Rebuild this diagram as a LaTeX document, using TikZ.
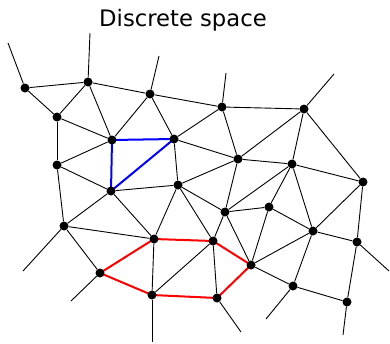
\documentclass[tikz,border=0pt]{standalone}
\usepackage{fontspec}
\setmainfont{DejaVu Sans}
\usetikzlibrary{backgrounds}
\tikzset{
  vert/.style  = {circle, fill=black, inner sep=0pt, minimum size=9pt},
  edge/.style  = {line width=0.9pt, black},
  cell/.style  = {line width=2pt, blue},
  path/.style  = {line width=2pt, red},
  title/.style = {font=\fontsize{22.7}{27}\selectfont, anchor=base},
}
\begin{document}
\begin{tikzpicture}[x=1pt, y=-1pt]
  \useasboundingbox (0,0) rectangle (390,343);
  \node[title] (ttl) at (183,26) {Discrete space};
  % vertices
  \node[vert] (a) at (25,88) {};   \node[vert] (b) at (88,82) {};
  \node[vert] (c) at (150,94) {};  \node[vert] (d) at (57,117) {};
  \node[vert] (e) at (112,140) {}; \node[vert] (f) at (174,139) {};
  \node[vert] (g) at (57,165) {};  \node[vert] (h) at (111,191) {};
  \node[vert] (i) at (178,185) {}; \node[vert] (j) at (222,107) {};
  \node[vert] (k) at (304,109) {}; \node[vert] (l) at (238,159) {};
  \node[vert] (m) at (292,164) {}; \node[vert] (n) at (363,182) {};
  \node[vert] (o) at (64,226) {};  \node[vert] (p) at (154,239) {};
  \node[vert] (q) at (100,273) {}; \node[vert] (r) at (152,295) {};
  \node[vert] (s) at (225,212) {}; \node[vert] (t) at (269,207) {};
  \node[vert] (u) at (313,231) {}; \node[vert] (v) at (357,242) {};
  \node[vert] (w) at (213,241) {}; \node[vert] (x) at (251,265) {};
  \node[vert] (y) at (293,286) {}; \node[vert] (z) at (217,298) {};
  \node[vert] (aa) at (347,302) {};
  % open ends
  \coordinate (a0) at (8,43);    \coordinate (b0) at (90,33);
  \coordinate (c0) at (159,56);  \coordinate (j0) at (226,73);
  \coordinate (k0) at (334,74);  \coordinate (o0) at (23,271);
  \coordinate (q0) at (71,301);  \coordinate (r0) at (152,342);
  \coordinate (v0) at (389,271); \coordinate (y0) at (266,319);
  \coordinate (z0) at (241,332); \coordinate (aa0) at (343,335);
  \begin{pgfonlayer}{background}
    \draw[edge] (a) -- (a0); \draw[edge] (b) -- (b0); \draw[edge] (c) -- (c0);
    \draw[edge] (j) -- (j0); \draw[edge] (k) -- (k0); \draw[edge] (o) -- (o0);
    \draw[edge] (q) -- (q0); \draw[edge] (r) -- (r0); \draw[edge] (v) -- (v0);
    \draw[edge] (y) -- (y0); \draw[edge] (z) -- (z0); \draw[edge] (aa) -- (aa0);
    \draw[edge] (a) -- (b); \draw[edge] (a) -- (d); \draw[edge] (b) -- (d);
    \draw[edge] (b) -- (c); \draw[edge] (b) -- (e); \draw[edge] (d) -- (e);
    \draw[edge] (d) -- (g); \draw[edge] (c) -- (e); \draw[edge] (c) -- (f);
    \draw[edge] (c) -- (j); \draw[edge] (g) -- (e); \draw[edge] (g) -- (h);
    \draw[edge] (f) -- (i); \draw[edge] (h) -- (i); \draw[edge] (f) -- (j);
    \draw[edge] (f) -- (l); \draw[edge] (i) -- (l); \draw[edge] (j) -- (l);
    \draw[edge] (j) -- (k); \draw[edge] (k) -- (l); \draw[edge] (k) -- (m);
    \draw[edge] (k) -- (n); \draw[edge] (l) -- (m); \draw[edge] (m) -- (n);
    \draw[edge] (l) -- (s); \draw[edge] (m) -- (s); \draw[edge] (m) -- (t);
    \draw[edge] (m) -- (u); \draw[edge] (i) -- (s); \draw[edge] (i) -- (p);
    \draw[edge] (i) -- (w); \draw[edge] (s) -- (w); \draw[edge] (h) -- (p);
    \draw[edge] (g) -- (o); \draw[edge] (o) -- (h); \draw[edge] (o) -- (p);
    \draw[edge] (o) -- (q); \draw[edge] (p) -- (r); \draw[edge] (r) -- (w);
    \draw[edge] (w) -- (z); \draw[edge] (s) -- (t); \draw[edge] (s) -- (x);
    \draw[edge] (t) -- (x); \draw[edge] (t) -- (u); \draw[edge] (x) -- (u);
    \draw[edge] (x) -- (y); \draw[edge] (u) -- (n); \draw[edge] (u) -- (v);
    \draw[edge] (u) -- (y); \draw[edge] (n) -- (v); \draw[edge] (v) -- (aa);
    \draw[edge] (y) -- (aa);
    % highlighted cell
    \draw[cell] (e.center) -- (f.center) -- (h.center) -- cycle;
    % highlighted loop
    \draw[path] (p.center) -- (q.center) -- (r.center) -- (z.center)
                -- (x.center) -- (w.center) -- cycle;
  \end{pgfonlayer}
\end{tikzpicture}
\end{document}
